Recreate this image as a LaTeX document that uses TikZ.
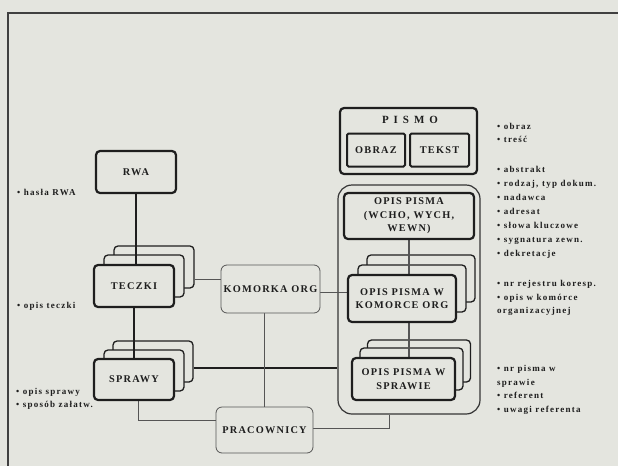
\documentclass[tikz,border=0pt]{standalone}
\usepackage{fontspec}
\setmainfont{Liberation Serif}
\newfontfamily\boxf[LetterSpace=12]{Liberation Serif}
\newfontfamily\smf[LetterSpace=14]{Liberation Serif}
\newfontfamily\pisf[LetterSpace=45]{Liberation Serif}
\usetikzlibrary{calc}
\definecolor{bg}{HTML}{E4E5DF}
\definecolor{ink}{HTML}{1E1E1E}
\definecolor{midc}{HTML}{555555}
\pgfdeclarelayer{bgl}\pgfdeclarelayer{midl}\pgfsetlayers{bgl,midl,main}
\tikzset{
  box/.style={draw=ink, fill=bg, line width=2.2pt, rounded corners=4pt, inner sep=0pt, align=center,
    font=\boxf\bfseries\fontsize{10.3}{13.5}\selectfont, text=ink},
  bbox/.style={draw=ink, fill=bg, line width=1.3pt, rounded corners=4pt, inner sep=0pt},
  lbox/.style={draw=midc, fill=bg, line width=0.8pt, rounded corners=6pt, inner sep=0pt, align=center,
    font=\boxf\bfseries\fontsize{10.3}{13.5}\selectfont, text=ink},
  note/.style={anchor=base west, inner sep=0pt, font=\smf\bfseries\fontsize{9}{10}\selectfont, text=ink},
  heavy/.style={draw=ink, line width=2pt},
  thinl/.style={draw=midc, line width=0.8pt},
  linkl/.style={draw=midc, line width=1.6pt},
  framel/.style={draw=ink!85, line width=1.1pt}
}
\begin{document}
\begin{tikzpicture}[x=1pt,y=-1pt]
\useasboundingbox (0,0) rectangle (618,466);
\begin{pgfonlayer}{bgl}
  \fill[bg] (0,0) rectangle (618,466);
  \node[draw=ink!90, line width=1.2pt, rounded corners=14pt, minimum width=142pt, minimum height=229pt, inner sep=0pt] (cont) at (409,299.5) {};
  % TECZKI stack
  \node[bbox, minimum width=80pt, minimum height=42pt] (tb2) at (154,267) {};
  \node[bbox, minimum width=80pt, minimum height=42pt] (tb1) at (144,276) {};
  % SPRAWY stack
  \node[bbox, minimum width=80pt, minimum height=41pt] (sb2) at (153,361.5) {};
  \node[bbox, minimum width=80pt, minimum height=41pt] (sb1) at (144,370.5) {};
  % OPIS W KOMORCE stack
  \node[bbox, minimum width=108pt, minimum height=47pt] (kb2) at (421,278.5) {};
  \node[bbox, minimum width=108pt, minimum height=47pt] (kb1) at (412,288.5) {};
  % OPIS W SPRAWIE stack
  \node[bbox, minimum width=103pt, minimum height=42pt] (pb2) at (419,361) {};
  \node[bbox, minimum width=103pt, minimum height=42pt] (pb1) at (411.5,369) {};
\end{pgfonlayer}

% frame
\coordinate (ftl) at (8,13);
\coordinate (ftr) at (618,13);
\coordinate (fbl) at (8,466);
\draw[framel] (ftr) -- (ftl) -- (fbl);

% main boxes
\node[box, minimum width=80pt, minimum height=42pt] (rwa) at (136,172) {RWA};
\node[box, minimum width=80pt, minimum height=42pt] (tf) at (134,286) {TECZKI};
\node[box, minimum width=80pt, minimum height=41pt] (sf) at (134,379.5) {SPRAWY};
\node[lbox, minimum width=99pt, minimum height=48pt] (kom) at (270.5,289) {KOMORKA ORG};
\node[lbox, minimum width=97pt, minimum height=46pt] (prac) at (264.5,430) {PRACOWNICY};

\node[box, minimum width=137pt, minimum height=66pt] (pismo) at (408.5,141) {};
\node[inner sep=0pt, font=\pisf\bfseries\fontsize{11}{13}\selectfont, text=ink] (pl) at (410,120) {PISMO};
\node[box, line width=2pt, rounded corners=1.5pt, minimum width=58pt, minimum height=33pt] (obraz) at (376,150) {OBRAZ};
\node[box, line width=2pt, rounded corners=1.5pt, minimum width=59pt, minimum height=33pt] (tekst) at (439.5,150) {TEKST};

\node[box, minimum width=130pt, minimum height=46pt] (wcho) at (409,216) {OPIS PISMA\\(WCHO, WYCH,\\WEWN)};
\node[box, minimum width=108pt, minimum height=47pt] (komf) at (402,298.5) {OPIS PISMA W\\KOMORCE ORG};
\node[box, minimum width=103pt, minimum height=42pt] (sprf) at (403.5,379) {OPIS PISMA W\\SPRAWIE};

% connectors
\begin{pgfonlayer}{midl}
  \draw[heavy] (rwa.south) -- (rwa.south |- tf.north);
  \draw[heavy] (tf.south) -- (tf.south |- sf.north);
  \coordinate (sprline) at ($(sb2.east)+(0,6.5)$);
  \draw[heavy] (sprline) -- (sprline -| cont.west);
  \coordinate (kin) at ($(kom.west)+(0,-10)$);
  \draw[thinl] (tb2.east |- kin) -- (kin);
  \coordinate (kout) at ($(komf.west)+(0,-6)$);
  \draw[thinl] (kom.east |- kout) -- (kout);
  \draw[thinl] (kom.south -| prac.north) -- (prac.north);
  \coordinate (pin) at ($(prac.west)+(0,-10)$);
  \coordinate (sdown) at ($(sf.south)+(4,0)$);
  \draw[thinl] (sdown) |- (pin);
  \coordinate (cbot) at ($(cont.south)+(-20,0)$);
  \draw[thinl] ($(prac.east)+(0,-2)$) -| (cbot);
  \draw[linkl] (wcho.south) -- (wcho.south |- komf.north);
  \draw[linkl] (komf.south -| wcho.south) -- (wcho.south |- sprf.north);
\end{pgfonlayer}

% notes right
\node[note] (n1) at (497,129) {• obraz};
\node[note] (n2) at (497,142) {• treść};
\node[note] (n3) at (497,172) {• abstrakt};
\node[note] (n4) at (497,186) {• rodzaj, typ dokum.};
\node[note] (n5) at (497,200) {• nadawca};
\node[note] (n6) at (497,214) {• adresat};
\node[note] (n7) at (497,228) {• słowa kluczowe};
\node[note] (n8) at (497,242) {• sygnatura zewn.};
\node[note] (n9) at (497,256) {• dekretacje};
\node[note] (n10) at (497,286) {• nr rejestru koresp.};
\node[note] (n11) at (497,300) {• opis w komórce};
\node[note] (n12) at (497,313) {organizacyjnej};
\node[note] (n13) at (497,371) {• nr pisma w};
\node[note] (n14) at (497,385) {sprawie};
\node[note] (n15) at (497,398) {• referent};
\node[note] (n16) at (497,412) {• uwagi referenta};
% notes left
\node[note] (l1) at (17,195) {• hasła RWA};
\node[note] (l2) at (17,308) {• opis teczki};
\node[note] (l3) at (16,394) {• opis sprawy};
\node[note] (l4) at (16,407) {• sposób załatw.};
\end{tikzpicture}
\end{document}
